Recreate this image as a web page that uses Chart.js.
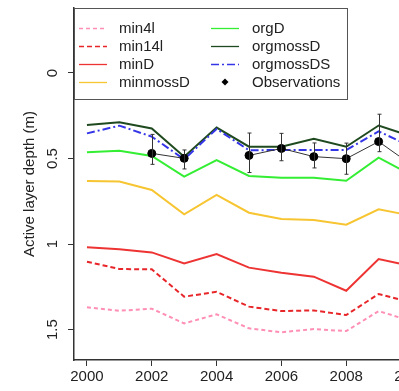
<!DOCTYPE html>
<html>
<head>
<meta charset="utf-8">
<script src="https://cdn.jsdelivr.net/npm/chart.js@4"></script>
<style>
html, body { margin: 0; padding: 0; background: #fff; overflow: hidden; }
#wrap { width: 440px; height: 391px; }
</style>
</head>
<body>
<div id="wrap"><canvas id="myChart" width="440" height="391"></canvas></div>
<script>
// active layer depth (m) per year
var years = [2000, 2001, 2002, 2003, 2004, 2005, 2006, 2007, 2008, 2009, 2010];
var min4l      = [1.37, 1.39, 1.378, 1.464, 1.411, 1.493, 1.516, 1.497, 1.509, 1.392, 1.45];
var min14l     = [1.103, 1.146, 1.148, 1.308, 1.279, 1.366, 1.392, 1.388, 1.415, 1.292, 1.342];
var minD       = [1.019, 1.03, 1.049, 1.113, 1.058, 1.138, 1.168, 1.191, 1.273, 1.088, 1.128];
var minmossD   = [0.632, 0.634, 0.684, 0.826, 0.713, 0.817, 0.854, 0.86, 0.887, 0.797, 0.834];
var orgD       = [0.464, 0.454, 0.485, 0.606, 0.509, 0.602, 0.612, 0.612, 0.63, 0.495, 0.595];
var orgmossD   = [0.304, 0.288, 0.324, 0.489, 0.319, 0.431, 0.431, 0.384, 0.431, 0.307, 0.37];
var orgmossDS  = [0.353, 0.308, 0.372, 0.505, 0.327, 0.452, 0.45, 0.45, 0.45, 0.341, 0.43];
var obs        = [null, null, 0.47, 0.499, null, 0.482, 0.441, 0.489, 0.501, 0.401, 0.535];
var obsTop     = [null, null, 0.359, 0.45, null, 0.351, 0.353, 0.409, 0.41, 0.241, null];
var obsBottom  = [null, null, 0.534, 0.561, null, 0.582, 0.513, 0.555, 0.592, 0.46, null];

var xTicks = [2000, 2002, 2004, 2006, 2008, 2010];
var yTicks = [0, 0.5, 1, 1.5];
var yTickLabels = ['0', '0.5', '1', '1.5'];

var font = 'Liberation Sans, Arial, sans-serif';
var axisColor = '#333';

function pts(arr) {
    return years.map(function (y, i) { return { x: y, y: arr[i] }; });
}

var series = [
    { label: 'min4l', data: min4l, color: '#ff8fb4', dash: [4, 3] },
    { label: 'min14l', data: min14l, color: '#e8262a', dash: [5, 3] },
    { label: 'minD', data: minD, color: '#ee3333', dash: [] },
    { label: 'minmossD', data: minmossD, color: '#f7c531', dash: [] },
    { label: 'orgD', data: orgD, color: '#33ee33', dash: [] },
    { label: 'orgmossD', data: orgmossD, color: '#1f4a1f', dash: [] },
    { label: 'orgmossDS', data: orgmossDS, color: '#3535e8', dash: [8, 3, 2, 3] }
];

var datasets = series.map(function (s, i) {
    return {
        label: s.label,
        data: pts(s.data),
        borderColor: s.color,
        backgroundColor: s.color,
        borderDash: s.dash,
        borderWidth: 2,
        pointRadius: 0,
        tension: 0,
        order: 20 - i
    };
});
datasets.push({
    label: 'Observations',
    data: pts(obs),
    borderColor: '#333',
    backgroundColor: '#000',
    borderWidth: 1,
    pointRadius: 4,
    pointStyle: 'circle',
    pointBackgroundColor: '#000',
    pointBorderColor: '#000',
    spanGaps: false,
    tension: 0,
    order: 1
});

var extras = {
    id: 'extras',
    afterDatasetsDraw: function (chart) {
        var ctx = chart.ctx, xs = chart.scales.x, ys = chart.scales.y, area = chart.chartArea;
        ctx.save();

        // error bars
        ctx.strokeStyle = '#333';
        ctx.lineWidth = 1;
        for (var i = 0; i < years.length; i++) {
            if (obsTop[i] == null) continue;
            var px = Math.round(xs.getPixelForValue(years[i])) + 0.5;
            var y1 = ys.getPixelForValue(obsTop[i]);
            var y2 = ys.getPixelForValue(obsBottom[i]);
            ctx.beginPath();
            ctx.moveTo(px, y1); ctx.lineTo(px, y2);
            ctx.moveTo(px - 2, y1); ctx.lineTo(px + 2, y1);
            ctx.moveTo(px - 2, y2); ctx.lineTo(px + 2, y2);
            ctx.stroke();
        }

        // legend box
        var bx = area.left + 0.5, by = area.top + 0.5, bw = 273, bh = 91;
        ctx.fillStyle = '#fff';
        ctx.fillRect(bx, by, bw, bh);
        ctx.strokeStyle = '#555';
        ctx.lineWidth = 1;
        ctx.strokeRect(bx, by, bw, bh);

        var items = series.concat([{ label: 'Observations', obs: true }]);
        ctx.font = '15px ' + font;
        ctx.textBaseline = 'middle';
        ctx.textAlign = 'left';
        for (var k = 0; k < items.length; k++) {
            var col = Math.floor(k / 4), row = k % 4;
            var lx = area.left + 5 + col * 132;
            var tx = area.left + 45 + col * 133;
            var ly = area.top + 20 + row * 18;
            var it = items[k];
            if (it.obs) {
                ctx.fillStyle = '#000';
                ctx.beginPath();
                ctx.moveTo(lx + 14, ly - 3.5);
                ctx.lineTo(lx + 17.5, ly);
                ctx.lineTo(lx + 14, ly + 3.5);
                ctx.lineTo(lx + 10.5, ly);
                ctx.closePath();
                ctx.fill();
            } else {
                ctx.strokeStyle = it.color;
                ctx.lineWidth = 1.3;
                ctx.setLineDash(it.dash);
                ctx.beginPath();
                ctx.moveTo(lx, ly + 0.5);
                ctx.lineTo(lx + 28, ly + 0.5);
                ctx.stroke();
                ctx.setLineDash([]);
            }
            ctx.fillStyle = '#222';
            ctx.fillText(it.label, tx, ly + 1);
        }

        // y tick labels, drawn parallel to the axis
        ctx.fillStyle = '#222';
        ctx.textAlign = 'center';
        ctx.textBaseline = 'middle';
        for (var t = 0; t < yTicks.length; t++) {
            var py = ys.getPixelForValue(yTicks[t]);
            ctx.save();
            ctx.translate(area.left - 21, py);
            ctx.rotate(-Math.PI / 2);
            ctx.fillText(yTickLabels[t], 0, 0);
            ctx.restore();
        }
        ctx.restore();
    }
};

var ctx = document.getElementById('myChart').getContext('2d');

var graphData = {
    type: 'line',
    data: { datasets: datasets },
    options: {
        responsive: false,
        animation: false,
        layout: { padding: { top: 8, right: 16, left: 0, bottom: 0 } },
        plugins: { legend: { display: false }, tooltip: { enabled: false } },
        scales: {
            x: {
                type: 'linear',
                min: 1999.6,
                max: 2010.4,
                afterBuildTicks: function (scale) {
                    scale.ticks = xTicks.map(function (v) { return { value: v }; });
                },
                afterFit: function (scale) { scale.height = 31; },
                grid: { drawOnChartArea: false, drawTicks: true, tickLength: 6, tickColor: axisColor, tickWidth: 1 },
                border: { display: true, color: axisColor, width: 1.5 },
                ticks: {
                    color: '#222',
                    padding: 2,
                    maxRotation: 0,
                    autoSkip: false,
                    font: { family: font, size: 15 },
                    callback: function (v) { return String(v); }
                }
            },
            y: {
                type: 'linear',
                reverse: true,
                min: -0.38,
                max: 1.678,
                afterBuildTicks: function (scale) {
                    scale.ticks = yTicks.map(function (v) { return { value: v }; });
                },
                afterFit: function (scale) { scale.width = 74; },
                grid: { drawOnChartArea: false, drawTicks: true, tickLength: 6, tickColor: axisColor, tickWidth: 1 },
                border: { display: true, color: axisColor, width: 1.5 },
                ticks: { display: false },
                title: {
                    display: true,
                    text: 'Active layer depth (m)',
                    color: '#222',
                    font: { family: font, size: 15 },
                    padding: { top: 21, bottom: 0 }
                }
            }
        }
    },
    plugins: [extras]
};

var myChart = new Chart(ctx, graphData);
</script>
</body>
</html>
